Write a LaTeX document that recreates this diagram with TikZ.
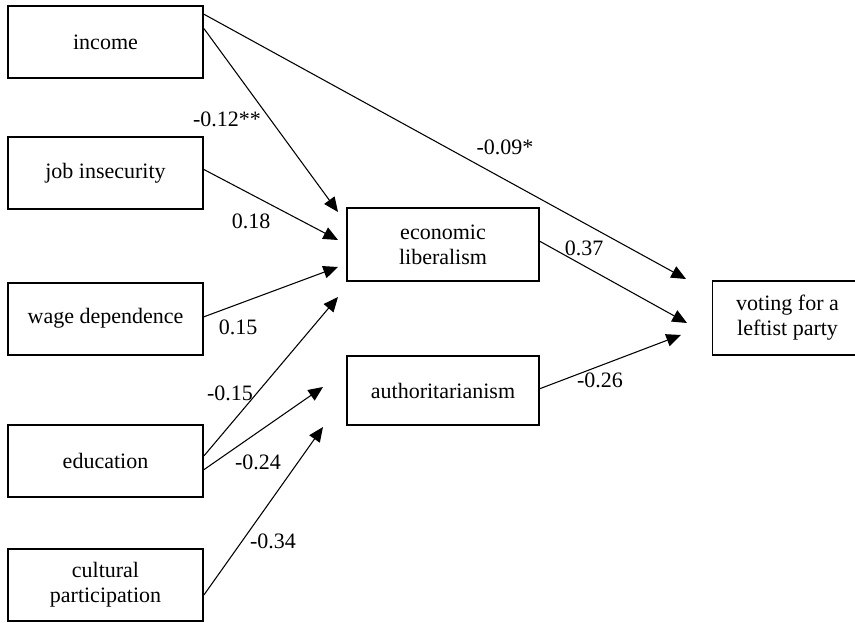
\documentclass[tikz,border=0pt]{standalone}
\usepackage{fontspec}
\setmainfont{Liberation Serif}
\usetikzlibrary{arrows.meta, calc}
\tikzset{
  block/.style={rectangle, draw=black, line width=1.5pt, align=center,
    minimum width=146.25pt, minimum height=54pt, inner sep=2pt},
  midblock/.style={rectangle, draw=black, line width=0.8pt, align=center,
    minimum width=144pt, minimum height=54.75pt, inner sep=2pt},
  outblock/.style={rectangle, draw=black, line width=0.8pt,
    minimum width=135pt, minimum height=55.5pt, inner sep=2pt, anchor=west},
  arrow/.style={-{Triangle[length=11pt, width=9.5pt]}, line width=0.8pt, color=black},
  coef/.style={inner sep=0pt}
}

\begin{document}
\begin{tikzpicture}[x=0.75pt, y=-0.75pt, font=\fontsize{16.5}{18.8}\selectfont]
  \useasboundingbox (0,0) rectangle (855,623);
  \clip (0,0) rectangle (855,623);
  % Predictors
  \node[block] (income) at (105.5,42.5) {income};
  \node[block] (jobins) at (105.5,173) {job insecurity};
  \node[block] (wagedep) at (105.5,318.5) {wage dependence};
  \node[block] (educ) at (105.5,461) {education};
  \node[block] (cultpart) at (105.5,584.5) {cultural\\participation};
  % Mediators
  \node[midblock] (econlib) at (443,244.5) {economic\\liberalism};
  \node[midblock, minimum height=51.75pt] (authorit) at (443,390.5) {authoritarianism};
  % Outcome (right side runs past the page)
  \node[outblock] (voting) at (712,318)
    {\begin{tabular}{@{}c@{}}voting for a\\leftist party\end{tabular}\hspace*{22.5pt}};
  % Arrow tips
  \coordinate (vote1) at (686,279);
  \coordinate (vote2) at (687,323);
  \coordinate (vote3) at (681,335);
  \coordinate (econ1) at (338,212);
  \coordinate (econ2) at (338,240);
  \coordinate (econ3) at (338,267);
  \coordinate (econ4) at (338,297);
  \coordinate (auth1) at (323,387);
  \coordinate (auth2) at (323,427);
  % Paths
  \draw[arrow] (income.16) -- (vote1);
  \draw[arrow] (income.8) -- (econ1);
  \draw[arrow] (jobins.2) -- (econ2);
  \draw[arrow] (wagedep.1) -- (econ3);
  \draw[arrow] (educ.3) -- (econ4);
  \draw[arrow] (educ.-5) -- (auth1);
  \draw[arrow] (cultpart.-6) -- (auth2);
  \draw[arrow] (econlib.2) -- (vote2);
  \draw[arrow] (authorit.1.5) -- (vote3);
  % Coefficients
  \node[coef] (k-inc-econ) at (227,119) {-0.12**};
  \node[coef] (k-inc-vote) at (505,147) {-0.09*};
  \node[coef] (k-job) at (251,221) {0.18};
  \node[coef] (k-wage) at (238,327) {0.15};
  \node[coef] (k-edu-econ) at (230,393) {-0.15};
  \node[coef] (k-edu-auth) at (258,462) {-0.24};
  \node[coef] (k-cult) at (273,541) {-0.34};
  \node[coef] (k-econ-vote) at (584,248) {0.37};
  \node[coef] (k-auth-vote) at (600,380) {-0.26};
\end{tikzpicture}
\end{document}
